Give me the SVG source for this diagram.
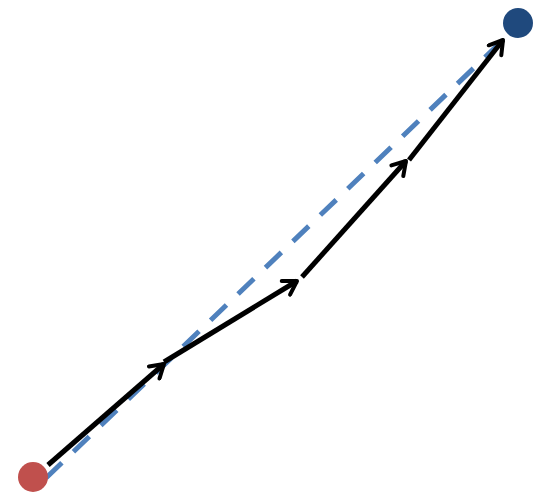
<svg xmlns="http://www.w3.org/2000/svg" width="533" height="495" viewBox="0 0 533 495">
<defs>
<style>
.seg{stroke:#000;stroke-width:5;fill:none;marker-end:url(#arr)}
.dash{stroke:#4f81bd;stroke-width:5;fill:none;stroke-dasharray:22 16}
</style>
<marker id="arr" markerUnits="userSpaceOnUse" viewBox="-16 -10 20 20" markerWidth="20" markerHeight="20" refX="0" refY="0" orient="auto">
<path d="M -13 -8 L 0 0 L -13 8" fill="none" stroke="#000" stroke-width="4" stroke-linecap="round" stroke-linejoin="round"/>
</marker>
</defs>
<rect width="533" height="495" fill="#fff"/>
<g id="connectors">
<line class="dash" x1="46" y1="478" x2="503" y2="40"/>
<line class="seg" x1="48" y1="465" x2="164" y2="364"/>
<line class="seg" x1="164" y1="362" x2="297" y2="281"/>
<line class="seg" x1="302" y1="277" x2="406" y2="161"/>
<line class="seg" x1="409" y1="160" x2="503" y2="40"/>
</g>
<g id="start"><circle cx="33" cy="477" r="15" fill="#c0504d"/></g>
<g id="end"><circle cx="518" cy="23" r="15" fill="#1f497d"/></g>
</svg>
